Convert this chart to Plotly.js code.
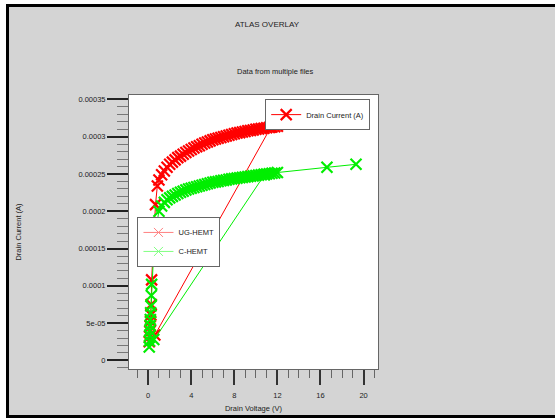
<!DOCTYPE html>
<html>
<head>
<meta charset="utf-8">
<script src="https://cdn.plot.ly/plotly-3.0.1.min.js"></script>
<style>
  html, body { margin: 0; padding: 0; background: #fff; }
  #frame {
    position: absolute; left: 6px; top: 4px;
    width: 546px; height: 408px;
    border-left: 3px solid #000; border-top: 3px solid #000; border-bottom: 3px solid #000;
  }
  #chart { width: 546px; height: 408px; }
</style>
</head>
<body>
<div id="frame"><div id="chart"></div></div>
<script>
// UG-HEMT output sweep: drain voltage (V) and drain current (A)
const ugVd = [11.4, 0.62,
  0.10, 0.13, 0.16, 0.19, 0.22, 0.25, 0.28, 0.32,
  0.68, 0.85, 1.00, 1.25, 1.50, 1.75, 2.00, 2.25, 2.50, 2.75, 3.00, 3.25, 3.50, 3.75,
  4.00, 4.25, 4.50, 4.75, 5.00, 5.25, 5.50, 5.75, 6.00, 6.25, 6.50, 6.75, 7.00, 7.25,
  7.50, 7.75, 8.00, 8.25, 8.50, 8.75, 9.00, 9.25, 9.50, 9.75, 10.00, 10.25, 10.50,
  10.75, 11.00, 11.25, 11.50, 11.75, 12.00,
  16.65];
const ugId = [3.13e-4, 3.4e-5,
  2.5e-5, 3.2e-5, 3.9e-5, 4.6e-5, 5.3e-5, 6.1e-5, 7.5e-5, 1.08e-4,
  2.09e-4, 2.34e-4, 2.42e-4, 2.49e-4, 2.54e-4, 2.59e-4, 2.63e-4, 2.66e-4, 2.69e-4, 2.72e-4,
  2.74e-4, 2.765e-4, 2.79e-4, 2.81e-4, 2.83e-4, 2.85e-4, 2.865e-4, 2.88e-4, 2.90e-4,
  2.915e-4, 2.93e-4, 2.945e-4, 2.96e-4, 2.97e-4, 2.98e-4, 2.99e-4, 3.00e-4, 3.01e-4,
  3.02e-4, 3.03e-4, 3.04e-4, 3.05e-4, 3.055e-4, 3.065e-4, 3.07e-4, 3.08e-4, 3.085e-4,
  3.09e-4, 3.10e-4, 3.105e-4, 3.11e-4, 3.115e-4, 3.12e-4, 3.125e-4, 3.13e-4, 3.135e-4, 3.14e-4,
  3.22e-4];

// C-HEMT output sweep
const chVd = [10.8, 0.52,
  0.10, 0.12, 0.14, 0.16, 0.18, 0.20, 0.23, 0.26, 0.29, 0.32, 0.50, 0.75,
  1.00, 1.25, 1.50, 1.75, 2.00, 2.25, 2.50, 2.75, 3.00, 3.25, 3.50, 3.75,
  4.00, 4.25, 4.50, 4.75, 5.00, 5.25, 5.50, 5.75, 6.00, 6.25, 6.50, 6.75, 7.00, 7.25,
  7.50, 7.75, 8.00, 8.25, 8.50, 8.75, 9.00, 9.25, 9.50, 9.75, 10.00, 10.25, 10.50,
  10.75, 11.00, 11.25, 11.50, 11.75, 12.00,
  16.6, 19.3];
const chId = [2.49e-4, 2.8e-5,
  1.8e-5, 2.6e-5, 3.3e-5, 4.0e-5, 4.7e-5, 5.5e-5, 6.4e-5, 7.3e-5, 8.7e-5, 1.02e-4, 1.42e-4, 1.80e-4,
  2.00e-4, 2.07e-4, 2.12e-4, 2.155e-4, 2.18e-4, 2.20e-4, 2.22e-4, 2.24e-4, 2.255e-4, 2.27e-4,
  2.285e-4, 2.30e-4, 2.31e-4, 2.32e-4, 2.33e-4, 2.34e-4, 2.35e-4, 2.36e-4, 2.37e-4, 2.38e-4,
  2.39e-4, 2.395e-4, 2.40e-4, 2.41e-4, 2.415e-4, 2.42e-4, 2.43e-4, 2.435e-4, 2.44e-4,
  2.445e-4, 2.45e-4, 2.455e-4, 2.46e-4, 2.465e-4, 2.47e-4, 2.475e-4, 2.48e-4, 2.485e-4,
  2.49e-4, 2.495e-4, 2.50e-4, 2.505e-4, 2.51e-4, 2.515e-4, 2.52e-4,
  2.59e-4, 2.63e-4];

const seriesNames = ['UG-HEMT', 'C-HEMT'];
const quantityName = 'Drain Current (A)';

const voltTicks = [0, 4, 8, 12, 16, 20];
const voltLabels = ['0', '4', '8', '12', '16', '20'];
const currTicks = [0, 5e-5, 1e-4, 1.5e-4, 2e-4, 2.5e-4, 3e-4, 3.5e-4];
const currLabels = ['0', '5e-05', '0.0001', '0.00015', '0.0002', '0.00025', '0.0003', '0.00035'];

const FONT = 'Liberation Sans, Arial, sans-serif';
const TXT = '#222';

function xMarker(color, size, width) {
  return { symbol: 'x-thin', size: size, color: color, line: { color: color, width: width } };
}

const traces = [
  {
    x: ugVd, y: ugId, type: 'scatter', mode: 'lines+markers',
    name: quantityName, legend: 'legend2',
    line: { color: '#ff0000', width: 1 },
    marker: xMarker('#ff0000', 11, 2.2)
  },
  {
    x: chVd, y: chId, type: 'scatter', mode: 'lines+markers',
    name: seriesNames[1], showlegend: false,
    line: { color: '#00ee00', width: 1 },
    marker: xMarker('#00ee00', 11, 2.2)
  },
  // file-name key entries
  {
    x: [null], y: [null], type: 'scatter', mode: 'lines+markers',
    name: seriesNames[0], legend: 'legend',
    line: { color: '#ff8080', width: 1 },
    marker: xMarker('#ff8080', 9, 1)
  },
  {
    x: [null], y: [null], type: 'scatter', mode: 'lines+markers',
    name: seriesNames[1], legend: 'legend',
    line: { color: '#80ff80', width: 1 },
    marker: xMarker('#80ff80', 9, 1)
  }
];

const legendStyle = {
  xanchor: 'left', yanchor: 'top',
  bgcolor: '#ffffff', bordercolor: '#666', borderwidth: 1,
  font: { family: FONT, size: 7.5, color: TXT },
  itemwidth: 30, tracegroupgap: 0
};

const layout = {
  width: 546, height: 408,
  margin: { l: 119.5, r: 177, t: 88, b: 46, pad: 0 },
  paper_bgcolor: '#d4d4d4',
  plot_bgcolor: '#ffffff',
  font: { family: FONT, size: 7.5, color: TXT },
  showlegend: true,
  title: {
    text: 'ATLAS OVERLAY', xref: 'container', yref: 'container',
    x: 0.4725, y: 0.958, xanchor: 'center', yanchor: 'middle',
    font: { family: FONT, size: 8, color: TXT }
  },
  annotations: [{
    text: 'Data from multiple files', xref: 'paper', yref: 'paper',
    x: 0.587, y: 1.084, xanchor: 'center', yanchor: 'middle', showarrow: false,
    font: { family: FONT, size: 7.5, color: TXT }
  }],
  xaxis: {
    range: [-1.78, 21.34], autorange: false,
    tickmode: 'array', tickvals: voltTicks, ticktext: voltLabels,
    ticks: 'outside', ticklen: 15, tickwidth: 2, tickcolor: '#333',
    ticklabelstandoff: 4,
    minor: { tickmode: 'linear', tick0: 0, dtick: 1, ticks: 'outside', ticklen: 8, tickwidth: 1, tickcolor: '#666', showgrid: false },
    showline: true, linecolor: '#666', linewidth: 1, mirror: true,
    showgrid: false, zeroline: false,
    tickfont: { family: FONT, size: 7.5, color: TXT },
    title: { text: 'Drain Voltage (V)', standoff: 6, font: { family: FONT, size: 7.5, color: TXT } }
  },
  yaxis: {
    range: [-1.15e-5, 3.56e-4], autorange: false,
    tickmode: 'array', tickvals: currTicks, ticktext: currLabels,
    ticks: 'outside', ticklen: 21, tickwidth: 2, tickcolor: '#222',
    minor: { tickmode: 'linear', tick0: 0, dtick: 1e-5, ticks: 'outside', ticklen: 11, tickwidth: 1, tickcolor: '#777', showgrid: false },
    showline: true, linecolor: '#666', linewidth: 1, mirror: true,
    showgrid: false, zeroline: false,
    tickfont: { family: FONT, size: 7.5, color: TXT },
    title: { text: 'Drain Current (A)', standoff: 55, font: { family: FONT, size: 7.5, color: TXT } }
  },
  legend: Object.assign({ x: 0.034, y: 0.555 }, legendStyle),
  legend2: Object.assign({ x: 0.547, y: 0.985 }, legendStyle)
};

Plotly.newPlot('chart', traces, layout, { displayModeBar: false, staticPlot: true });
</script>
</body>
</html>
